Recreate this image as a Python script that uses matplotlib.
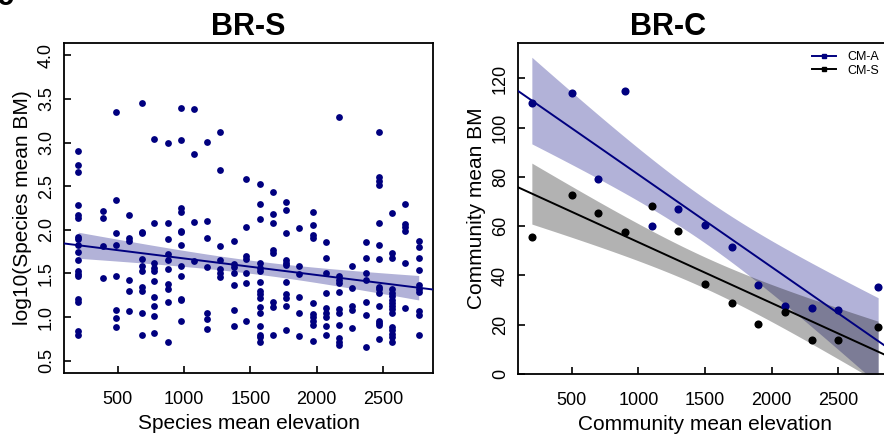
import numpy as np
import matplotlib
matplotlib.use("Agg")
import matplotlib.pyplot as plt
from matplotlib.lines import Line2D


# BR-S: species mean elevation columns and log10 body mass of the species in each
SPECIES_ELEV = [200, 385, 485, 585, 680, 775, 875, 975, 1075, 1175, 1270, 1375, 1470,
                1575, 1670, 1770, 1870, 1970, 2070, 2170, 2270, 2370, 2470, 2570,
                2670, 2770]
SPECIES_BM = [
    [2.90, 2.74, 2.66, 2.28, 2.17, 2.13, 1.92, 1.89, 1.83, 1.75, 1.65, 1.53, 1.49,
     1.47, 1.21, 1.17, 0.84, 0.80],
    [2.22, 2.13, 1.81, 1.45],
    [3.35, 2.34, 1.96, 1.83, 1.47, 1.08, 0.99, 0.89],
    [2.17, 1.91, 1.87, 1.42, 1.30, 1.07],
    [3.45, 1.98, 1.96, 1.67, 1.58, 1.53, 1.34, 1.30, 1.05, 0.79],
    [3.04, 2.08, 1.62, 1.56, 1.53, 1.41, 1.23, 1.13, 1.01, 0.82],
    [2.99, 2.08, 1.89, 1.72, 1.65, 1.55, 1.38, 1.32, 1.17, 0.71],
    [3.39, 3.03, 2.25, 2.20, 1.99, 1.97, 1.83, 1.58, 1.47, 1.21, 1.20, 0.96],
    [3.38, 2.87, 2.09, 1.64],
    [3.01, 2.10, 1.91, 1.57, 1.05, 0.98, 0.86],
    [3.12, 2.69, 1.81, 1.65, 1.55, 1.51, 1.46],
    [1.87, 1.61, 1.57, 1.50, 1.37, 1.08, 0.90],
    [2.58, 2.03, 1.70, 1.67, 1.51, 1.39, 0.96],
    [2.53, 2.30, 2.12, 1.62, 1.56, 1.53, 1.40, 1.30, 1.26, 1.22, 1.12, 1.05, 0.90,
     0.80, 0.77, 0.72],
    [2.43, 2.18, 2.08, 1.77, 1.73, 1.17, 1.12, 0.80],
    [2.32, 2.23, 1.96, 1.65, 1.62, 1.60, 1.40, 1.26, 1.22, 1.13, 0.85],
    [2.02, 1.59, 1.49, 1.23, 1.05, 0.78],
    [2.20, 2.05, 1.94, 1.91, 1.16, 1.04, 1.00, 0.95, 0.91, 0.73],
    [1.86, 1.68, 1.50, 1.28, 1.10, 1.05, 1.00, 0.90, 0.80],
    [3.29, 1.47, 1.43, 1.39, 1.29, 1.09, 1.05, 0.91, 0.76, 0.72, 0.68],
    [1.58, 1.33, 1.13, 1.08, 0.88],
    [1.86, 1.68, 1.51, 1.42, 1.17, 1.03, 0.66],
    [3.12, 2.60, 2.56, 2.51, 2.08, 1.83, 1.67, 1.34, 1.32, 1.28, 1.13, 0.96, 0.93,
     0.91, 0.75],
    [2.19, 1.74, 1.68, 1.32, 1.28, 1.24, 1.20, 1.16, 1.13, 1.09, 1.05, 0.89, 0.85,
     0.81, 0.77, 0.72],
    [2.30, 2.07, 2.03, 1.99, 1.62, 1.10],
    [1.87, 1.80, 1.68, 1.54, 1.37, 1.32, 1.29, 1.07, 1.03, 0.79],
]

# BR-C: community means
COMM_ELEV = [200, 500, 700, 900, 1100, 1300, 1500, 1700, 1900, 2100, 2300, 2500, 2800]
CM_A = [110, 114, 79, 115, 60, 67, 60.5, 51.7, 36, 27.6, 26.7, 26, 35.2]
CM_S = [55.5, 72.8, 65.4, 57.5, 68.3, 58, 36.4, 29, 20.4, 25, 13.8, 13.9, 19]

NAVY = "#00007f"
FONT = "Liberation Sans"

plt.rcParams["font.family"] = [FONT, "DejaVu Sans"]


def fit_band(x, y, grid):
    x = np.asarray(x, dtype=float)
    y = np.asarray(y, dtype=float)
    n = len(x)
    slope, intercept = np.polyfit(x, y, 1)
    resid = y - (intercept + slope * x)
    s = np.sqrt(np.sum(resid ** 2) / (n - 2))
    sxx = np.sum((x - x.mean()) ** 2)
    se = s * np.sqrt(1.0 / n + (grid - x.mean()) ** 2 / sxx)
    t = 1.97 if n > 100 else 2.2
    fit = intercept + slope * grid
    return slope, intercept, fit - t * se, fit + t * se


def style_axes(ax):
    for sp in ax.spines.values():
        sp.set_linewidth(1.3)
    ax.tick_params(direction="in", length=5, width=1.2, labelsize=13)
    ax.tick_params(axis="x", pad=13)
    ax.tick_params(axis="y", pad=6.5, labelrotation=90)
    for lab in ax.get_yticklabels():
        lab.set_va("center")


def plot_species(ax):
    x = np.concatenate([[e] * len(v) for e, v in zip(SPECIES_ELEV, SPECIES_BM)])
    y = np.concatenate(SPECIES_BM)

    grid = np.linspace(x.min(), x.max(), 100)
    slope, intercept, lo, hi = fit_band(x, y, grid)
    ax.fill_between(grid, lo, hi, color=NAVY, alpha=0.3, lw=0)
    ax.scatter(x, y, s=24, color=NAVY, zorder=3, linewidths=0)

    ax.set_xlim(93, 2878)
    ax.set_ylim(0.36, 4.14)
    xs = np.array(ax.get_xlim())
    ax.plot(xs, intercept + slope * xs, color=NAVY, lw=1.4, zorder=4)

    ax.set_xticks([500, 1000, 1500, 2000, 2500])
    ax.set_yticks(np.arange(0.5, 4.01, 0.5))
    ax.set_yticklabels([f"{v:.1f}" for v in np.arange(0.5, 4.01, 0.5)])
    ax.set_xlabel("Species mean elevation", fontsize=15, labelpad=4)
    ax.set_ylabel("log10(Species mean BM)", fontsize=15, labelpad=4)
    ax.set_title("BR-S", fontsize=22, fontweight="bold", pad=6)
    style_axes(ax)


def plot_community(ax):
    x = np.array(COMM_ELEV, dtype=float)
    grid = np.linspace(x.min(), x.max(), 100)
    ax.set_xlim(96, 2904)
    ax.set_ylim(0, 134.4)
    xs = np.array(ax.get_xlim())

    for vals, col in [(CM_A, NAVY), (CM_S, "black")]:
        slope, intercept, lo, hi = fit_band(x, vals, grid)
        ax.fill_between(grid, lo, hi, color=col, alpha=0.3, lw=0)
        ax.plot(xs, intercept + slope * xs, color=col, lw=1.4, zorder=4)
        ax.scatter(x, vals, s=34, color=col, zorder=5, linewidths=0)

    ax.set_xticks([500, 1000, 1500, 2000, 2500])
    ax.set_yticks(np.arange(0, 121, 20))
    ax.set_xlabel("Community mean elevation", fontsize=15, labelpad=4)
    ax.set_ylabel("Community mean BM", fontsize=15, labelpad=4)
    ax.set_title("BR-C", fontsize=22, fontweight="bold", pad=6, x=(668 - 518) / 374)
    style_axes(ax)

    handles = [
        Line2D([], [], color=NAVY, lw=1.4, marker="s", markersize=3),
        Line2D([], [], color="black", lw=1.4, marker="s", markersize=3),
    ]
    fig = ax.figure
    fig.legend(handles, ["CM-A", "CM-S"], loc="upper left",
               bbox_to_anchor=(812 / 884, 1 - 51 / 436), frameon=False,
               fontsize=9, handlelength=1.9, handletextpad=0.9,
               labelspacing=0.15, borderpad=0, borderaxespad=0)


def main():
    fig = plt.figure(figsize=(8.84, 4.36), dpi=100)
    ax1 = fig.add_axes([64 / 884, 63 / 436, 369 / 884, 330 / 436])
    ax2 = fig.add_axes([518 / 884, 62 / 436, 374 / 884, 331 / 436])
    plot_species(ax1)
    plot_community(ax2)
    # cropped panel letter peeking in at the top-left corner
    fig.text(-0.004, 1 - 5 / 436, "c", fontsize=22, fontweight="bold",
             ha="left", va="baseline")
    fig.savefig("out.png", dpi=100)


if __name__ == "__main__":
    main()
